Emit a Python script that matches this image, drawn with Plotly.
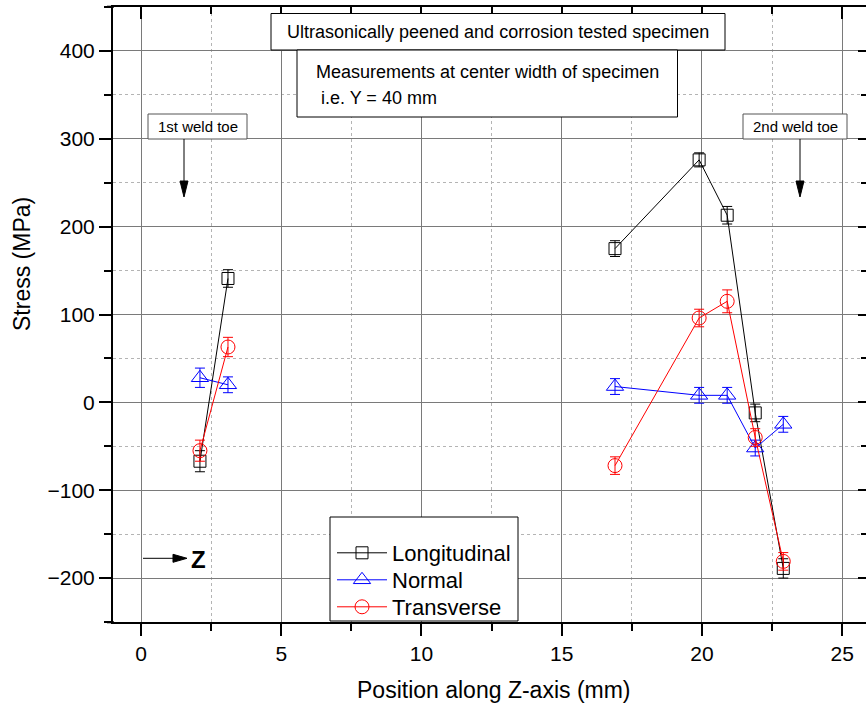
import plotly.graph_objects as go

# ---------------- data ----------------
pos_long = [2.1, 3.1, None, 16.9, 19.9, 20.9, 21.9, 22.9]
stress_long = [-67, 141, None, 175, 276, 213, -12, -189]
err_long = [12, 10, None, 9, 8, 10, 10, 11]

pos_norm = [2.1, 3.1, None, 16.9, 19.9, 20.9, 21.9, 22.9]
stress_norm = [28, 20, None, 18, 8, 8, -52, -25]
err_norm = [11, 9, None, 9, 9, 9, 9, 9]

pos_trans = [2.1, 3.1, None, 16.9, 19.9, 20.9, 21.9, 22.9]
stress_trans = [-55, 63, None, -72, 96, 115, -40, -181]
err_trans = [12, 11, None, 10, 10, 13, 10, 10]

series_names = ["Longitudinal", "Normal", "Transverse"]
series_colors = ["#000000", "#0000ff", "#ff0000"]
series_symbols = ["square-open", "triangle-up-open", "circle-open"]
series_sizes = [12, 15, 14]

x_ticks = [0, 5, 10, 15, 20, 25]
x_minor = [2.5, 7.5, 12.5, 17.5, 22.5]
y_ticks = [-200, -100, 0, 100, 200, 300, 400]
y_minor = [-250, -150, -50, 50, 150, 250, 350, 450]

title_box = "Ultrasonically peened and corrosion tested specimen"
meas_line1 = "Measurements at center width of specimen"
meas_line2 = "i.e. Y = 40 mm"
weld1 = "1st weld toe"
weld2 = "2nd weld toe"

# ---------------- layout constants ----------------
W, H = 866, 708
L, R, T, B = 113, 0, 7, 86
XR = [-1, 25.85]
YR = [-250, 450]
PW = W - L - R
PH = H - T - B
FONT = "Arial, Liberation Sans, Helvetica, sans-serif"


def px(p):
    return (p - L) / PW


def py(p):
    return 1 - (p - T) / PH


fig = go.Figure()

legend_ids = ["legend", "legend2", "legend3"]
legend_rows = [553, 580, 607]

data = [
    (pos_long, stress_long, err_long),
    (pos_norm, stress_norm, err_norm),
    (pos_trans, stress_trans, err_trans),
]
for (xs, ys, es), name, col, sym, sz, lg in zip(data, series_names, series_colors,
                                                  series_symbols, series_sizes,
                                                  legend_ids):
    fig.add_trace(go.Scatter(
        x=xs, y=ys, name=name, mode="lines+markers",
        line=dict(color=col, width=1),
        marker=dict(symbol=sym, size=sz, color=col, line=dict(color=col, width=1)),
        error_y=dict(type="data", array=es, visible=True, color=col,
                     thickness=1, width=5),
        connectgaps=False, legend=lg,
    ))

# dummy trace for mirror axes
fig.add_trace(go.Scatter(x=[None], y=[None], xaxis="x2", yaxis="y2",
                         showlegend=False, hoverinfo="skip"))

axis_common = dict(showline=True, linecolor="black", linewidth=2,
                   tickcolor="black", tickwidth=2, ticklen=12,
                   tickfont=dict(family=FONT, size=21, color="black"),
                   zeroline=False)

GRID = "#7a7a7a"
MGRID = "#b4b4b4"

fig.update_layout(
    width=W, height=H,
    margin=dict(l=L, r=R, t=T, b=B),
    paper_bgcolor="white", plot_bgcolor="white",
    font=dict(family=FONT, color="black"),
    xaxis=dict(range=XR, tickvals=x_ticks, ticks="outside",
               showgrid=True, gridcolor=GRID, gridwidth=1,
               minor=dict(tickmode="array", tickvals=x_minor, ticks="outside",
                          ticklen=7, tickcolor="black", tickwidth=2,
                          showgrid=True, gridcolor=MGRID, griddash="dot",
                          gridwidth=1),
               **axis_common),
    yaxis=dict(range=YR, tickvals=y_ticks, ticks="outside",
               showgrid=True, gridcolor=GRID, gridwidth=1,
               minor=dict(tickmode="array", tickvals=y_minor, ticks="outside",
                          ticklen=7, tickcolor="black", tickwidth=2,
                          showgrid=True, gridcolor=MGRID, griddash="dot",
                          gridwidth=1),
               **axis_common),
    xaxis2=dict(range=XR, overlaying="x", side="top", anchor="y",
                tickvals=x_ticks, ticks="inside", ticklen=12, tickwidth=2,
                tickcolor="black", showticklabels=False, showgrid=False,
                showline=True, linecolor="black", linewidth=2, zeroline=False,
                minor=dict(tickmode="array", tickvals=x_minor, ticks="inside",
                           ticklen=7, tickcolor="black", tickwidth=2,
                           showgrid=False)),
    yaxis2=dict(range=YR, overlaying="y", side="right", anchor="x",
                tickvals=y_ticks, ticks="inside", ticklen=8, tickwidth=2,
                tickcolor="black", showticklabels=False, showgrid=False,
                showline=False, zeroline=False,
                minor=dict(tickmode="array", tickvals=y_minor, ticks="inside",
                           ticklen=5, tickcolor="black", tickwidth=2,
                           showgrid=False)),
    showlegend=True,
)

for lg, row in zip(legend_ids, legend_rows):
    fig.update_layout({lg: dict(x=px(332), y=py(row), xanchor="left",
                                yanchor="middle", bgcolor="rgba(0,0,0,0)",
                                borderwidth=0, itemwidth=50,
                                font=dict(family=FONT, size=22, color="black"))})

shapes = []


def rect(x0, y0, x1, y1, lc="black"):
    shapes.append(dict(type="rect", xref="paper", yref="paper",
                       x0=px(x0), x1=px(x1), y0=py(y1), y1=py(y0),
                       line=dict(color=lc, width=1), fillcolor="white",
                       layer="above"))


def seg(x0, y0, x1, y1, w=1):
    shapes.append(dict(type="line", xref="paper", yref="paper",
                       x0=px(x0), x1=px(x1), y0=py(y0), y1=py(y1),
                       line=dict(color="black", width=w), layer="above"))


def tri(pts):
    path = "M " + " L ".join(f"{px(a):.5f},{py(b):.5f}" for a, b in pts) + " Z"
    shapes.append(dict(type="path", xref="paper", yref="paper", path=path,
                       fillcolor="black", line=dict(color="black", width=1),
                       layer="above"))


# text boxes
rect(271, 13.5, 725, 50)
rect(297, 50, 677.5, 117)
rect(148, 114, 247, 139, lc="#555555")
rect(743, 114, 847, 139, lc="#555555")
# legend frame
rect(330, 517, 518, 621)
# weld toe arrows
seg(184, 139, 184, 182)
tri([(180, 181), (188, 181), (184, 197)])
seg(800, 139, 800, 182)
tri([(796, 181), (804, 181), (800, 197)])
# Z arrow
seg(143, 558.3, 175, 558.3)
tri([(173, 554.3), (173, 562.3), (187, 558.3)])
# axis line extensions (left of y axis)
seg(107, 622.3, 114, 622.3, w=2)
seg(107, 6.7, 114, 6.7, w=2)

fig.update_layout(shapes=shapes)

ann = []


def text(x, y, s, size, xanchor="center", bold=False):
    ann.append(dict(x=px(x), y=py(y), xref="paper", yref="paper",
                    text=f"<b>{s}</b>" if bold else s, showarrow=False,
                    xanchor=xanchor, yanchor="middle",
                    font=dict(family=FONT, size=size, color="black")))


text(498, 32, title_box, 18)
text(314, 72, meas_line1, 18, xanchor="left")
text(319, 98, meas_line2, 18, xanchor="left")
text(197.5, 127, weld1, 15)
text(795, 127, weld2, 15)
text(189, 559, "Z", 24, xanchor="left", bold=True)
text(494, 690, "Position along Z-axis (mm)", 23)
ann.append(dict(x=px(22), y=py(264), xref="paper", yref="paper",
                text="Stress (MPa)", showarrow=False, textangle=-90,
                xanchor="center", yanchor="middle",
                font=dict(family=FONT, size=23, color="black")))
fig.update_layout(annotations=ann)

fig.write_html("out.html")
